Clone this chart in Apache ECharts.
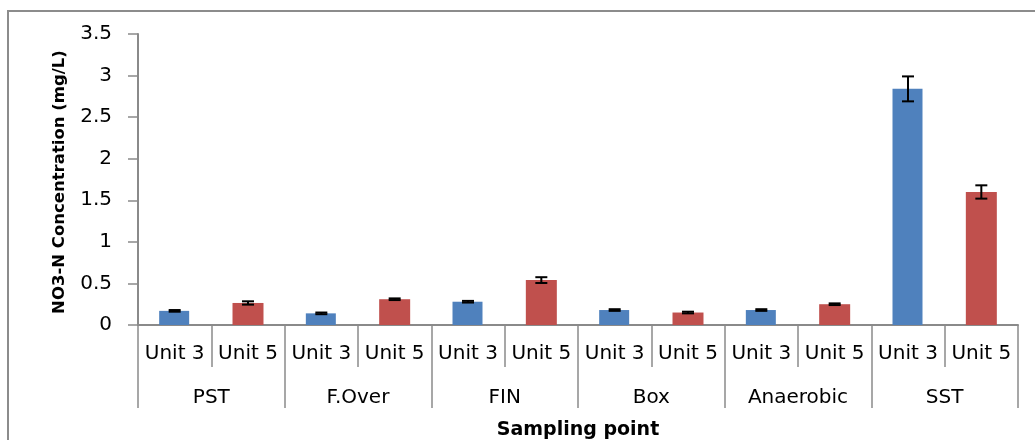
<!DOCTYPE html>
<html>
<head>
<meta charset="utf-8">
<title>NO3-N Concentration by sampling point</title>
<script src="https://cdn.jsdelivr.net/npm/echarts@6/dist/echarts.min.js"></script>
<style>
  html, body { margin: 0; padding: 0; background: #ffffff; }
  #chart { width: 1035px; height: 440px; }
</style>
</head>
<body>
<div id="chart"></div>
<script>
// Sampling points and treatment units
const groups = ['PST', 'F.Over', 'FIN', 'Box', 'Anaerobic', 'SST'];
const units = ['Unit 3', 'Unit 5'];

// Mean NO3-N concentration (mg/L) at each sampling point
const unit3Values = [0.17, 0.14, 0.28, 0.18, 0.18, 2.84];
const unit5Values = [0.265, 0.31, 0.54, 0.15, 0.25, 1.60];

// Error (± mg/L) for each mean
const unit3Errors = [0.01, 0.01, 0.01, 0.01, 0.01, 0.15];
const unit5Errors = [0.02, 0.01, 0.035, 0.01, 0.01, 0.08];

// Y axis ticks
const yMin = 0, yMax = 3.5, yStep = 0.5;

const AXIS_GREY = '#8a8a8a';
const BLUE = '#4F81BD';
const RED = '#C0504D';

// One category per (group, unit) pair
const categories = [];
groups.forEach(() => units.forEach(u => categories.push(u)));

const unit3Bars = [], unit5Bars = [], errorData = [];
groups.forEach((g, i) => {
  unit3Bars.push(unit3Values[i], '-');
  unit5Bars.push('-', unit5Values[i]);
  errorData.push([2 * i, unit3Values[i], unit3Errors[i]]);
  errorData.push([2 * i + 1, unit5Values[i], unit5Errors[i]]);
});

const chart = echarts.init(document.getElementById('chart'), null, { renderer: 'canvas' });

const option = {
  animation: false,
  backgroundColor: '#ffffff',
  grid: { left: 138, right: 17, top: 34, bottom: 115, containLabel: false },
  xAxis: [
    {
      type: 'category',
      data: categories,
      position: 'bottom',
      axisLine: { show: true, lineStyle: { color: AXIS_GREY, width: 2 } },
      axisTick: { show: true, interval: 0, length: 42, lineStyle: { color: AXIS_GREY, width: 1.5 } },
      axisLabel: { interval: 0, margin: 19, color: '#000', fontFamily: 'DejaVu Sans', fontSize: 20 }
    },
    {
      type: 'category',
      data: groups,
      position: 'bottom',
      axisLine: { show: false },
      axisTick: { show: true, interval: 0, length: 83, lineStyle: { color: AXIS_GREY, width: 1.5 } },
      axisLabel: { interval: 0, margin: 63, color: '#000', fontFamily: 'DejaVu Sans', fontSize: 20 }
    }
  ],
  yAxis: {
    type: 'value',
    min: yMin,
    max: yMax,
    interval: yStep,
    axisLine: { show: true, lineStyle: { color: AXIS_GREY, width: 2 } },
    axisTick: { show: true, length: 10, lineStyle: { color: AXIS_GREY, width: 1.5 } },
    splitLine: { show: false },
    axisLabel: { margin: 26, color: '#000', fontFamily: 'DejaVu Sans', fontSize: 20 }
  },
  graphic: [
    {
      type: 'polyline',
      shape: { points: [[8, 440], [8, 11], [1035, 11]] },
      style: { fill: null, stroke: '#8c8c8c', lineWidth: 2 },
      silent: true
    },
    {
      type: 'text',
      x: 60, y: 182, rotation: Math.PI / 2,
      style: {
        text: 'NO3-N Concentration (mg/L)',
        fontFamily: 'DejaVu Sans', fontWeight: 'bold', fontSize: 16.5,
        fill: '#000', align: 'center', verticalAlign: 'middle'
      }
    },
    {
      type: 'text',
      x: 578, y: 430,
      style: {
        text: 'Sampling point',
        fontFamily: 'DejaVu Sans', fontWeight: 'bold', fontSize: 19,
        fill: '#000', align: 'center', verticalAlign: 'middle'
      }
    }
  ],
  series: [
    {
      name: 'Unit 3', type: 'bar', data: unit3Bars,
      barWidth: 30, barGap: '-100%',
      itemStyle: { color: BLUE }
    },
    {
      name: 'Unit 5', type: 'bar', data: unit5Bars,
      barWidth: 31, barGap: '-100%',
      itemStyle: { color: RED }
    },
    {
      name: 'Error', type: 'custom', data: errorData, z: 10,
      encode: { x: 0, y: 1 },
      renderItem: function (params, api) {
        const idx = api.value(0), v = api.value(1), e = api.value(2);
        const hi = api.coord([idx, v + e]);
        const lo = api.coord([idx, v - e]);
        const cap = 6;
        const style = { stroke: '#000', lineWidth: 2 };
        return {
          type: 'group',
          children: [
            { type: 'line', shape: { x1: hi[0], y1: hi[1], x2: lo[0], y2: lo[1] }, style: style },
            { type: 'line', shape: { x1: hi[0] - cap, y1: hi[1], x2: hi[0] + cap, y2: hi[1] }, style: style },
            { type: 'line', shape: { x1: lo[0] - cap, y1: lo[1], x2: lo[0] + cap, y2: lo[1] }, style: style }
          ]
        };
      }
    }
  ]
};

chart.setOption(option);
</script>
</body>
</html>
